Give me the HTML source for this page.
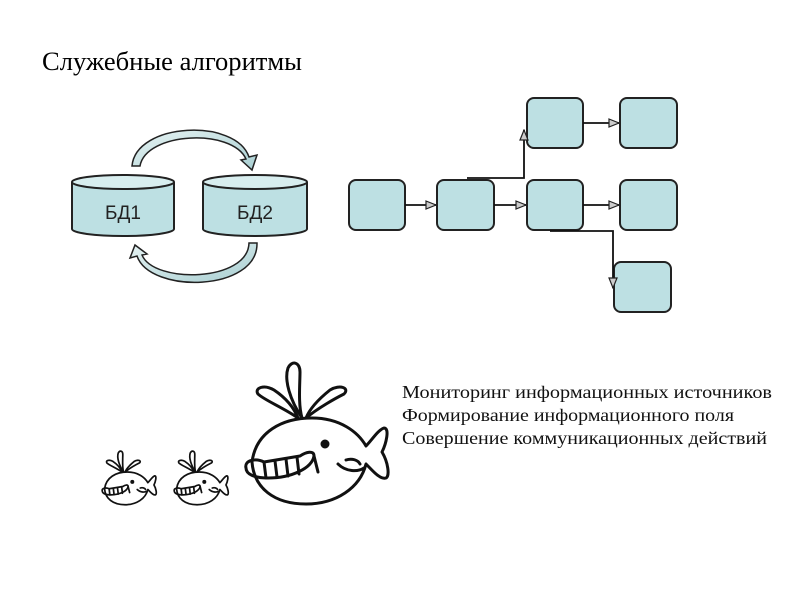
<!DOCTYPE html>
<html><head><meta charset="utf-8"><style>
html,body{margin:0;padding:0;background:#fff;}
svg{display:block;}
</style></head><body>
<svg width="800" height="600" viewBox="0 0 800 600" xmlns="http://www.w3.org/2000/svg">
<defs>
<marker id="ar" markerWidth="12" markerHeight="10" refX="11" refY="5" orient="auto" markerUnits="userSpaceOnUse">
<path d="M1,1 L11,5 L1,9 Z" fill="#ccc" stroke="#222" stroke-width="1.2"/>
</marker>
<linearGradient id="ag" x1="0" y1="0" x2="1" y2="1"><stop offset="0" stop-color="#e6f3f3"/><stop offset="1" stop-color="#a9cfd2"/></linearGradient>
<g id="whale" fill="none" stroke="#111" stroke-linecap="round" stroke-linejoin="round">
<path d="M62,58 C50,40 44,20 48,8 C52,0 60,2 60,12 C60,24 58,44 62,58"/>
<path d="M58,58 C44,48 24,40 18,34 C14,28 24,24 34,30 C46,38 54,48 58,58"/>
<path d="M66,58 C78,48 96,38 104,34 C110,28 100,24 90,30 C80,38 70,48 66,58"/>
<path d="M12,102 C16,72 42,58 72,58 C100,58 118,72 126,86 C132,80 138,70 144,68 C150,68 146,84 142,92 C148,102 150,116 146,118 C140,120 132,110 126,104 C120,128 96,144 66,144 C34,144 14,128 12,102"/>
<path d="M6,108 C4,100 16,98 24,102 L60,96 C66,92 74,90 74,96 C72,108 52,118 28,118 C14,118 6,114 6,108 Z"/>
<path d="M24,102 L26,118 M35,101 L37,117 M46,99 L48,116 M57,97 L59,114"/>
<path d="M74,96 L78,112"/>
<circle cx="85" cy="84" r="3" fill="#111"/>
<path d="M98,104 C106,112 118,112 124,108 M106,100 C112,98 118,100 120,104"/>
</g>
</defs>

<text x="42" y="70" font-family="Liberation Serif, serif" font-size="26" textLength="260" lengthAdjust="spacingAndGlyphs" fill="#000">Служебные алгоритмы</text>

<g stroke="#222" stroke-width="2" fill="#bde0e3">
<path d="M72,182 L72,229 A51,7 0 0 0 174,229 L174,182"/>
<ellipse cx="123" cy="182" rx="51" ry="7" fill="#d8eeef"/>
<path d="M203,182 L203,229 A52,7 0 0 0 307,229 L307,182"/>
<ellipse cx="255" cy="182" rx="52" ry="7" fill="#d8eeef"/>
</g>
<text x="123" y="219" text-anchor="middle" font-family="Liberation Sans, sans-serif" font-size="19" fill="#222">БД1</text>
<text x="255" y="219" text-anchor="middle" font-family="Liberation Sans, sans-serif" font-size="19" fill="#222">БД2</text>

<path d="M132,166 C136,122 236,118 249,157 L257,155 L252,170 L241,160 L246,159 C232,128 146,132 140,166 Z" fill="url(#ag)" stroke="#222" stroke-width="1.5"/>
<path d="M257,243 C258,292 150,294 137,256 L130,258 L135,245 L147,254 L142,255 C154,284 248,282 249,243 Z" fill="url(#ag)" stroke="#222" stroke-width="1.5"/>

<g fill="#bde0e3" stroke="#222" stroke-width="2">
<rect x="527" y="98" width="56" height="50" rx="7"/>
<rect x="620" y="98" width="57" height="50" rx="7"/>
<rect x="349" y="180" width="56" height="50" rx="7"/>
<rect x="437" y="180" width="57" height="50" rx="7"/>
<rect x="527" y="180" width="56" height="50" rx="7"/>
<rect x="620" y="180" width="57" height="50" rx="7"/>
<rect x="614" y="262" width="57" height="50" rx="7"/>
</g>
<g stroke="#111" stroke-width="1.8" fill="none" marker-end="url(#ar)">
<path d="M405,205 L436,205"/>
<path d="M494,205 L526,205"/>
<path d="M583,205 L619,205"/>
<path d="M583,123 L619,123"/>
<path d="M467,178 L524,178 L524,130"/>
<path d="M550,231 L613,231 L613,288"/>
</g>

<use href="#whale" transform="translate(240,360)" stroke-width="3"/>
<use href="#whale" transform="translate(100,450) scale(0.38)" stroke-width="4.5"/>
<use href="#whale" transform="translate(172,450) scale(0.38)" stroke-width="4.5"/>

<g font-family="Liberation Serif, serif" font-size="18" fill="#111" lengthAdjust="spacingAndGlyphs">
<text x="402" y="398" textLength="370" lengthAdjust="spacingAndGlyphs">Мониторинг информационных источников</text>
<text x="402" y="421" textLength="332" lengthAdjust="spacingAndGlyphs">Формирование информационного поля</text>
<text x="402" y="444" textLength="365" lengthAdjust="spacingAndGlyphs">Совершение коммуникационных действий</text>
</g>
</svg>
</body></html>
